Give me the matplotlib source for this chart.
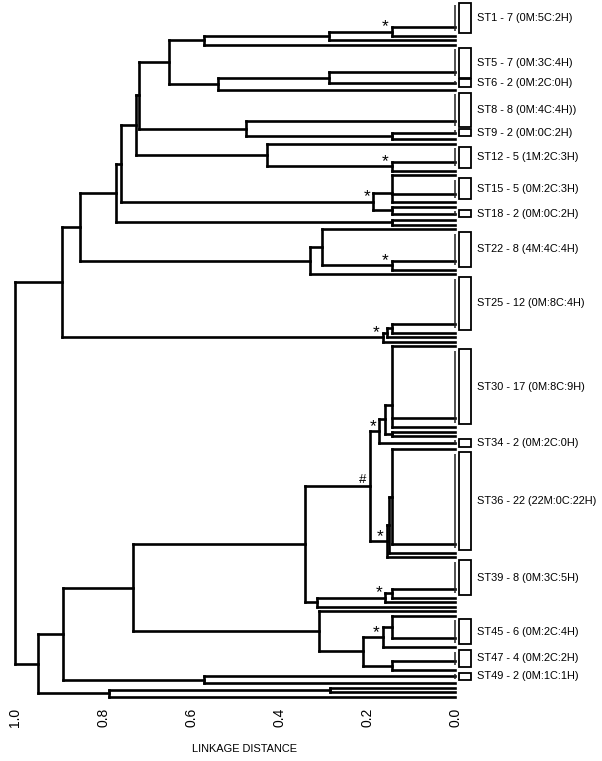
import matplotlib
matplotlib.use("Agg")
import matplotlib.pyplot as plt
from matplotlib.collections import LineCollection
from matplotlib.patches import Rectangle

# sequence types (top to bottom), isolates in each, and their labels
st_names = ["ST1", "ST5", "ST6", "ST8", "ST9", "ST12", "ST15", "ST18", "ST22",
            "ST25", "ST30", "ST34", "ST36", "ST39", "ST45", "ST47", "ST49"]
st_sizes = [7, 7, 2, 8, 2, 5, 5, 2, 8, 12, 17, 2, 22, 8, 6, 4, 2]
st_labels = ["ST1 - 7 (0M:5C:2H)", "ST5 - 7 (0M:3C:4H)", "ST6 - 2 (0M:2C:0H)",
             "ST8 - 8 (0M:4C:4H))", "ST9 - 2 (0M:0C:2H)", "ST12 - 5 (1M:2C:3H)",
             "ST15 - 5 (0M:2C:3H)", "ST18 - 2 (0M:0C:2H)", "ST22 - 8 (4M:4C:4H)",
             "ST25 - 12 (0M:8C:4H)", "ST30 - 17 (0M:8C:9H)", "ST34 - 2 (0M:2C:0H)",
             "ST36 - 22 (22M:0C:22H)", "ST39 - 8 (0M:3C:5H)", "ST45 - 6 (0M:2C:4H)",
             "ST47 - 4 (0M:2C:2H)", "ST49 - 2 (0M:1C:1H)"]

# tree: (height, child, child, ...), optional leading mark; "." = single isolate
st1_sub = (0.570, (0.286, ("*", 0.144, "ST1", "."), "."), ".")
st5_sub = (0.539, (0.286, "ST5", "ST6"), ".")
st8_sub = (0.475, "ST8", (0.144, "ST9", "."))
st12_sub = (0.427, ".", ("*", 0.144, "ST12", "."))
st15_sub = ("*", 0.186, (0.144, ".", "ST15", "."), (0.144, ".", "ST18"))
pair_kl = (0.144, ".", ".")
st22_sub = (0.330, (0.303, ".", ("*", 0.144, "ST22", ".")), ".")
st25_sub = ("*", 0.164, (0.155, (0.144, "ST25", "."), "."), ".")

st30_sub = ("*", 0.173, (0.159, (0.144, ".", "ST30", "."), (0.144, ".", ".")), "ST34")
st36_sub = ("*", 0.155, (0.149, (0.144, ".", "ST36"), "."), ".")
st39_sub = (0.314, ("*", 0.159, (0.144, "ST39", "."), "."), ".")
st45_sub = (0.308, ".", (0.208, ("*", 0.164, (0.144, ".", "ST45"), "."),
                         (0.144, "ST47", ".")))
st49_sub = (0.570, "ST49", ".")
tail_sub = (0.786, (0.284, ".", "."), ".")

upper = (0.893, (0.852, (0.770, (0.759, (0.725, (0.718, (0.650, st1_sub, st5_sub),
                                                  st8_sub), st12_sub), st15_sub),
                         pair_kl), st22_sub), st25_sub)
lower = (0.948, (0.891, (0.731, (0.341, ("#", 0.193, st30_sub, st36_sub), st39_sub),
                         st45_sub), st49_sub), tail_sub)
root = (1.0, upper, lower)

plt.rcParams["font.family"] = ["Liberation Sans", "DejaVu Sans"]

sizes = dict(zip(st_names, st_sizes))
segs, zero_segs, marks, first_slot = [], [], [], {}
slot = [0]


def walk(node):
    if node == ".":
        y = slot[0]
        slot[0] += 1
        return y, 0.0
    if isinstance(node, str):
        n = sizes[node]
        first = slot[0]
        slot[0] += n
        first_slot[node] = first
        zero_segs.append([(0.0, first), (0.0, first + n - 1)])
        y = first
        for k in range(1, n):
            y = (y + first + k) / 2
        return y, 0.0
    mark = None
    if isinstance(node[0], str):
        mark, node = node[0], node[1:]
    h = node[0]
    kids = [walk(c) for c in node[1:]]
    ys = [k[0] for k in kids]
    for yk, hk in kids:
        segs.append([(hk, yk), (h, yk)])
    segs.append([(h, min(ys)), (h, max(ys))])
    y = ys[0]
    for yy in ys[1:]:
        y = (y + yy) / 2
    if mark:
        marks.append((mark, h, y))
    return y, h


walk(root)
n_leaves = slot[0]

fig = plt.figure(figsize=(6.02, 7.61), dpi=100)
top_px, bot_px = 4.5, 696.7
ax = fig.add_axes([15 / 602, 1 - bot_px / 761, 440 / 602, (bot_px - top_px) / 761])
ax.set_xlim(1.0, 0.0)
ax.set_ylim(n_leaves - 1, 0)

ax.add_collection(LineCollection(segs, colors="black", linewidths=1.9,
                                 capstyle="projecting", clip_on=False))
ax.add_collection(LineCollection(zero_segs, colors="#222222", linewidths=1.1,
                                 clip_on=False))

for mark, h, y in marks:
    if mark == "*":
        ax.annotate(mark, (h, y), xytext=(-4.5, 0.2), textcoords="offset points",
                    ha="center", va="baseline", fontsize=12.5,
                    annotation_clip=False)
    else:
        ax.annotate(mark, (h, y), xytext=(-5.5, 2.0), textcoords="offset points",
                    ha="center", va="baseline", fontsize=9.5,
                    annotation_clip=False)

for name, label in zip(st_names, st_labels):
    first = first_slot[name]
    n = sizes[name]
    ax.add_patch(Rectangle((-0.036, first - 0.35), 0.027, n - 1 + 0.7,
                           facecolor="white", edgecolor="black", lw=1.3,
                           clip_on=False))
    ax.text(-0.05, first + (n - 1) / 2, label, ha="left", va="center",
            fontsize=7.9, clip_on=False)

ticks = [1.0, 0.8, 0.6, 0.4, 0.2, 0.0]
ax.set_xticks(ticks)
ax.set_xticklabels(["%.1f" % t for t in ticks], rotation=90, fontsize=10)
ax.tick_params(axis="x", length=0, pad=8)
ax.set_yticks([])
for s in ax.spines.values():
    s.set_visible(False)

fig.text(245 / 602, 1 - 749 / 761, "LINKAGE DISTANCE", ha="center", va="center",
         fontsize=7.9)

fig.savefig("out.png", dpi=100)
